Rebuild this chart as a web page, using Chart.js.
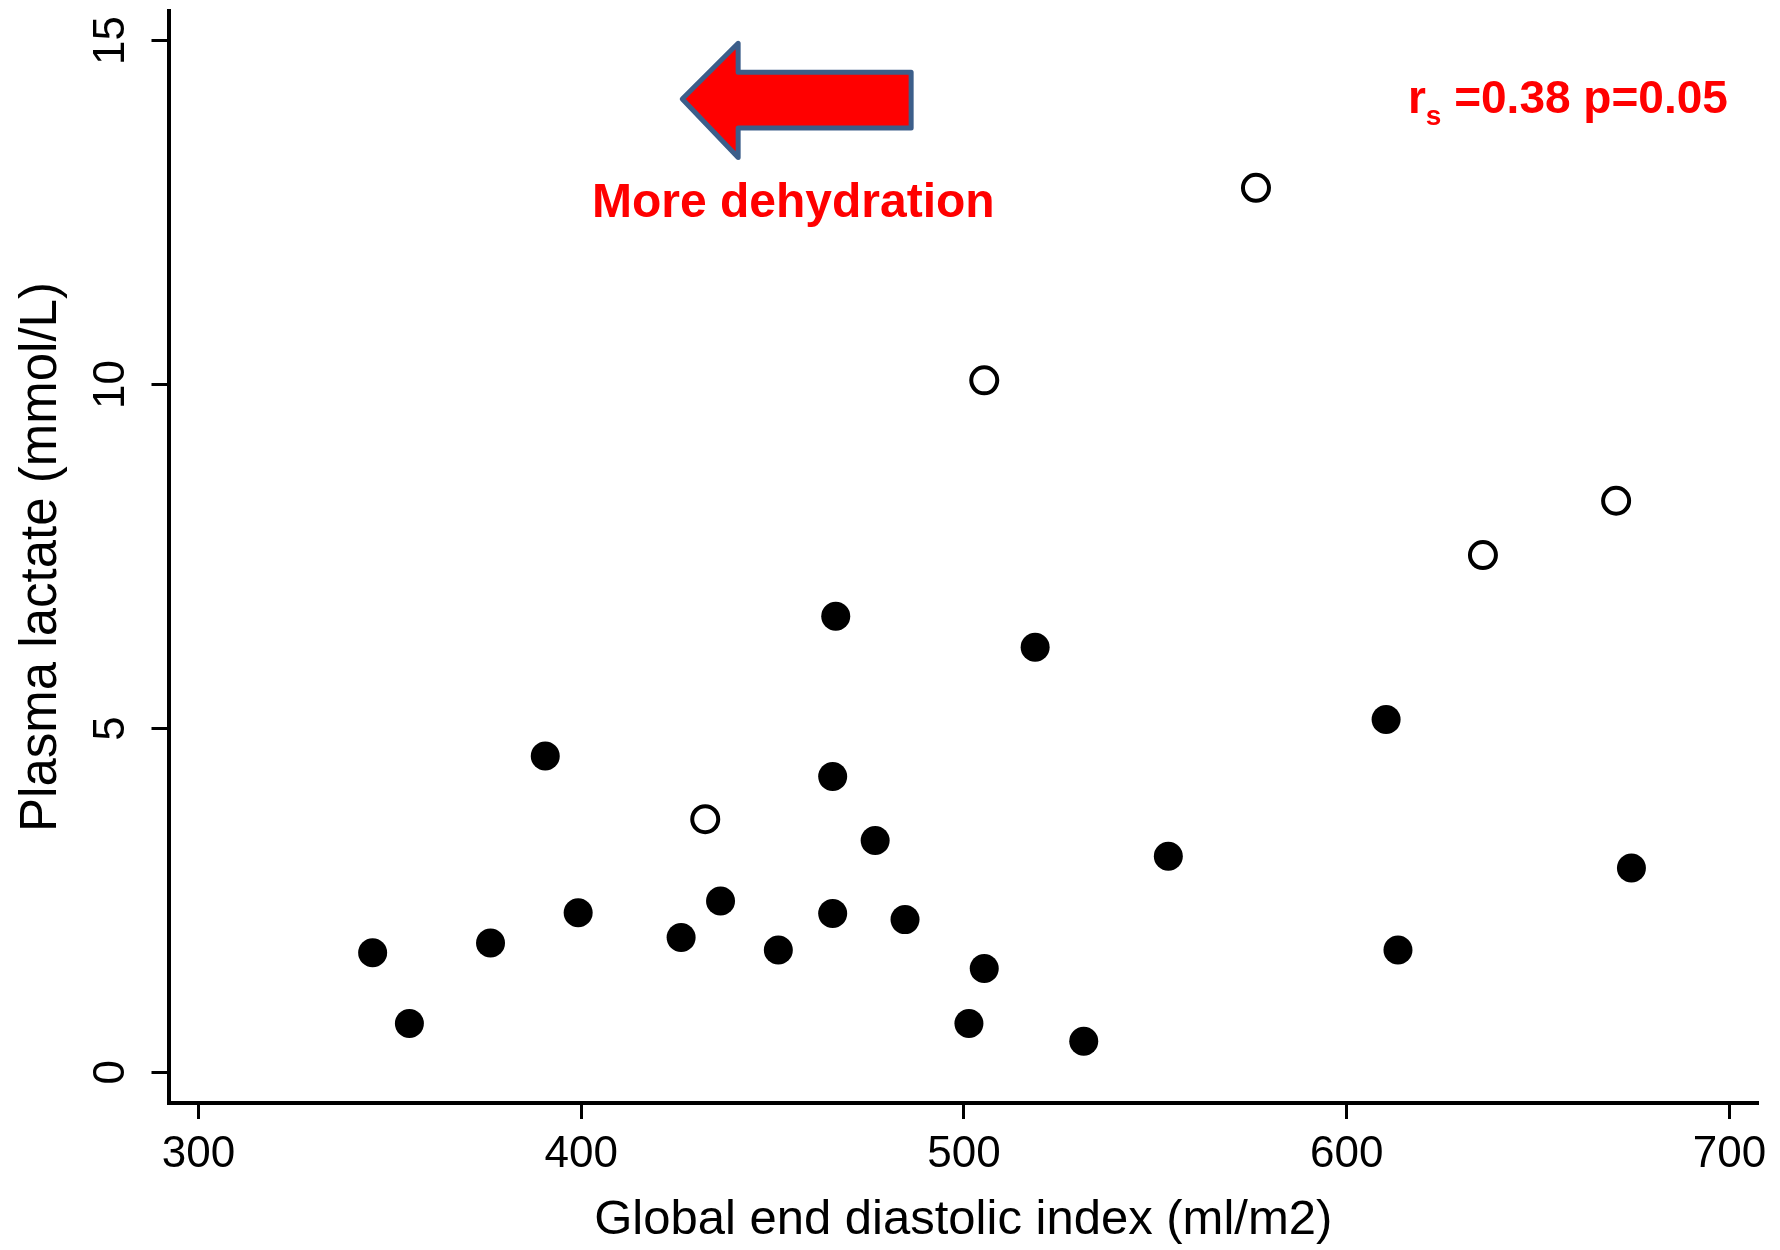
<!DOCTYPE html>
<html lang="en">
<head>
    <meta charset="UTF-8"/>
    <title>Plasma lactate vs GEDI</title>
    <script src="https://cdn.jsdelivr.net/npm/chart.js@4.4.0/dist/chart.umd.min.js"></script>
    <style>
        body { margin: 0; background: #fff; }
        #chart { display: block; }
    </style>
</head>
<body>

<canvas id="chart" width="1780" height="1250"></canvas>

<script>
    // tick labels
    const xTicks = [300, 400, 500, 600, 700];
    const yTicks = [0, 5, 10, 15];

    // survivors (filled dots)
    const filledGedi = [345.5, 355.1, 376.3, 390.6, 399.2, 426.1, 436.4, 451.5, 465.7, 465.7, 466.5,
        476.8, 484.6, 501.3, 505.3, 518.6, 531.3, 553.4, 610.3, 613.4, 674.4];
    const filledLactate = [1.74, 0.71, 1.88, 4.60, 2.32, 1.96, 2.49, 1.78, 4.30, 2.31, 6.63,
        3.37, 2.22, 0.71, 1.51, 6.18, 0.45, 3.14, 5.13, 1.78, 2.97];

    // non-survivors (open circles)
    const openGedi = [432.4, 505.3, 576.3, 635.6, 670.4];
    const openLactate = [3.68, 10.06, 12.86, 7.52, 8.31];

    const toPoints = (xs, ys) => xs.map((x, i) => ({x: x, y: ys[i]}));

    // arrow + labels, placed in data units
    const arrow = {tip: 426.4, neck: 441.0, tail: 486.2, mid: 14.15,
        headTop: 14.96, headBottom: 13.30, shaftTop: 14.54, shaftBottom: 13.73};
    const dehydrationLabel = {x: 455.4, y: 12.44, text: 'More dehydration'};
    const statsLabel = {x: 616.0, y: 13.94};

    const annotate = {
        id: 'annotate',
        afterDatasetsDraw(chart) {
            const ctx = chart.ctx;
            const xs = chart.scales.x;
            const ys = chart.scales.y;
            const px = v => xs.getPixelForValue(v);
            const py = v => ys.getPixelForValue(v);

            ctx.save();
            ctx.beginPath();
            ctx.moveTo(px(arrow.tip), py(arrow.mid));
            ctx.lineTo(px(arrow.neck), py(arrow.headTop));
            ctx.lineTo(px(arrow.neck), py(arrow.shaftTop));
            ctx.lineTo(px(arrow.tail), py(arrow.shaftTop));
            ctx.lineTo(px(arrow.tail), py(arrow.shaftBottom));
            ctx.lineTo(px(arrow.neck), py(arrow.shaftBottom));
            ctx.lineTo(px(arrow.neck), py(arrow.headBottom));
            ctx.closePath();
            ctx.fillStyle = '#ff0000';
            ctx.fill();
            ctx.lineWidth = 5;
            ctx.lineJoin = 'round';
            ctx.strokeStyle = '#3c5e8a';
            ctx.stroke();

            ctx.fillStyle = '#ff0000';
            ctx.textBaseline = 'alphabetic';
            ctx.font = 'bold 48px "Liberation Sans", Arial, sans-serif';
            ctx.textAlign = 'center';
            ctx.fillText(dehydrationLabel.text, px(dehydrationLabel.x), py(dehydrationLabel.y));

            // r with subscript s
            ctx.textAlign = 'left';
            let x = px(statsLabel.x);
            const y = py(statsLabel.y);
            ctx.font = 'bold 46px "Liberation Sans", Arial, sans-serif';
            ctx.fillText('r', x, y);
            x += ctx.measureText('r').width;
            ctx.font = 'bold 28px "Liberation Sans", Arial, sans-serif';
            ctx.fillText('s', x, y + 12);
            x += ctx.measureText('s').width;
            ctx.font = 'bold 46px "Liberation Sans", Arial, sans-serif';
            ctx.fillText(' =0.38 p=0.05', x, y);
            ctx.restore();
        }
    };

    const tickFont = {family: '"Liberation Sans", Arial, sans-serif', size: 44};

    new Chart(document.getElementById('chart').getContext('2d'), {
        type: 'scatter',
        data: {
            datasets: [
                {
                    label: 'filled',
                    data: toPoints(filledGedi, filledLactate),
                    pointStyle: 'circle',
                    pointRadius: 14.5,
                    pointBorderWidth: 0,
                    backgroundColor: '#000000',
                    borderColor: '#000000'
                },
                {
                    label: 'open',
                    data: toPoints(openGedi, openLactate),
                    pointStyle: 'circle',
                    pointRadius: 13,
                    pointBorderWidth: 4,
                    backgroundColor: '#ffffff',
                    borderColor: '#000000'
                }
            ]
        },
        options: {
            responsive: false,
            animation: false,
            devicePixelRatio: 1,
            layout: {autoPadding: false, padding: {top: 11, right: 22, left: 0, bottom: 0}},
            plugins: {
                legend: {display: false},
                tooltip: {enabled: false}
            },
            scales: {
                x: {
                    type: 'linear',
                    min: 292.16,
                    max: 707.47,
                    afterBuildTicks: s => { s.ticks = xTicks.map(v => ({value: v})); },
                    afterFit: s => {
                        s.height = 147;
                        s.paddingLeft = 0;
                        s.paddingRight = 0;
                    },
                    border: {display: true, color: '#000', width: 4},
                    grid: {display: true, drawOnChartArea: false, drawTicks: true,
                        tickLength: 16, tickWidth: 3, tickColor: '#000'},
                    ticks: {color: '#000', font: tickFont, padding: 9, maxRotation: 0},
                    title: {
                        display: true,
                        text: 'Global end diastolic index (ml/m2)',
                        color: '#000',
                        font: {family: '"Liberation Sans", Arial, sans-serif', size: 49},
                        padding: {top: 0, bottom: 0}
                    }
                },
                y: {
                    type: 'linear',
                    min: -0.446,
                    max: 15.43,
                    afterBuildTicks: s => { s.ticks = yTicks.map(v => ({value: v})); },
                    afterFit: s => {
                        s.width = 168.5;
                        s.paddingTop = 0;
                        s.paddingBottom = 0;
                    },
                    border: {display: true, color: '#000', width: 4},
                    grid: {display: true, drawOnChartArea: false, drawTicks: true,
                        tickLength: 17, tickWidth: 3, tickColor: '#000'},
                    ticks: {color: '#000', font: tickFont, padding: 15, minRotation: 90, maxRotation: 90,
                        crossAlign: 'center'},
                    title: {
                        display: true,
                        text: 'Plasma lactate (mmol/L)',
                        color: '#000',
                        font: {family: '"Liberation Sans", Arial, sans-serif', size: 51},
                        padding: {top: 11, bottom: 0}
                    }
                }
            }
        },
        plugins: [annotate]
    });
</script>

</body>
</html>
